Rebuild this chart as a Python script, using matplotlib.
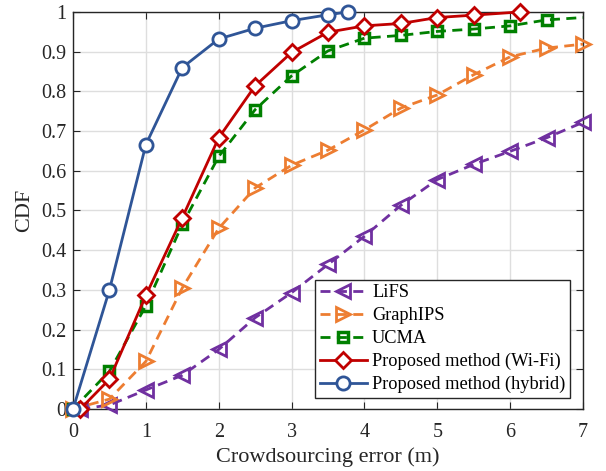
import matplotlib
matplotlib.use('Agg')
import matplotlib.pyplot as plt

plt.rcParams['font.family'] = ['Liberation Serif', 'DejaVu Serif']

# LiFS
x_lifs = [0.1, 0.5, 1, 1.5, 2, 2.5, 3, 3.5, 4, 4.5, 5, 5.5, 6, 6.5, 7]
y_lifs = [0.0, 0.01, 0.048, 0.085, 0.15, 0.23, 0.293, 0.364, 0.435, 0.513, 0.578, 0.616, 0.649, 0.683, 0.722]

# GraphIPS
x_graph = [0, 0.5, 1, 1.5, 2, 2.5, 3, 3.5, 4, 4.5, 5, 5.5, 6, 6.5, 7]
y_graph = [0.0, 0.025, 0.12, 0.305, 0.455, 0.557, 0.614, 0.652, 0.703, 0.758, 0.791, 0.842, 0.887, 0.909, 0.919]

# UCMA (last point only carries the line to the border)
x_ucma = [0, 0.5, 1, 1.5, 2, 2.5, 3, 3.5, 4, 4.5, 5, 5.5, 6, 6.5, 7]
y_ucma = [0.0, 0.095, 0.26, 0.465, 0.636, 0.754, 0.839, 0.902, 0.934, 0.941, 0.951, 0.957, 0.965, 0.98, 0.986]

# Proposed method (Wi-Fi)
x_wifi = [0.1, 0.5, 1, 1.5, 2, 2.5, 3, 3.5, 4, 4.5, 5, 5.5, 6.13]
y_wifi = [0.0, 0.075, 0.286, 0.482, 0.683, 0.814, 0.898, 0.949, 0.965, 0.971, 0.986, 0.992, 1.0]

# Proposed method (hybrid)
x_hyb = [0, 0.5, 1, 1.5, 2, 2.5, 3, 3.5, 3.77]
y_hyb = [0.0, 0.30, 0.666, 0.86, 0.932, 0.959, 0.978, 0.993, 1.0]

fig = plt.figure(figsize=(6.06, 4.71), dpi=100)
ax = fig.add_axes([0.1205, 0.1316, 0.8415, 0.843])

lw = 2.0
ms = 9.5
mew = 2.0
dash = (0, (3.6, 2.3))

ax.plot(x_lifs, y_lifs, color='#7030A0', ls=dash, lw=lw, marker='<', ms=ms + 1,
        mew=mew, mfc='none', label='LiFS', clip_on=False, zorder=3)
ax.plot(x_graph, y_graph, color='#ED7D31', ls=dash, lw=lw, marker='>', ms=ms + 1,
        mew=mew, mfc='none', label='GraphIPS', clip_on=False, zorder=3)
ax.plot(x_ucma, y_ucma, color='#008000', ls=dash, lw=lw, marker='s', ms=ms - 2.5,
        mew=mew + 0.5, mfc='none', label='UCMA', clip_on=False, zorder=3,
        markevery=list(range(len(x_ucma) - 1)))
ax.plot(x_wifi, y_wifi, color='#C00000', ls='-', lw=lw, marker='D', ms=ms - 1.5,
        mew=mew, mfc='white', label='Proposed method (Wi-Fi)', clip_on=False, zorder=4)
ax.plot(x_hyb, y_hyb, color='#2F5597', ls='-', lw=lw, marker='o', ms=ms,
        mew=mew, mfc='white', label='Proposed method (hybrid)', clip_on=False, zorder=5)

ax.set_xlim(0, 7)
ax.set_ylim(0, 1)
ax.set_xticks(range(0, 8))
ax.set_xticklabels([str(i) for i in range(0, 8)])
yt = [i / 10 for i in range(11)]
ax.set_yticks(yt)
ax.set_yticklabels(['0'] + ['%.1f' % v for v in yt[1:-1]] + ['1'])
ax.tick_params(direction='in', top=True, right=True, labelsize=14.5, length=5,
               color='#262626', labelcolor='#262626')
ax.tick_params(axis='x', pad=10)
ax.tick_params(axis='y', pad=5)
ax.grid(True, color='#DEDEDE', lw=1)
ax.set_axisbelow(True)
for s in ax.spines.values():
    s.set_color('#262626')
    s.set_linewidth(1)

ax.set_xlabel('Crowdsourcing error (m)', fontsize=16, color='#262626', labelpad=4)
ax.set_ylabel('CDF', fontsize=16, color='#262626', labelpad=5)

leg = ax.legend(loc='lower right', bbox_to_anchor=(0.9745, 0.028), fontsize=13.2,
                frameon=True, fancybox=False, edgecolor='#262626', framealpha=1,
                handlelength=2.55, handletextpad=0.3, borderpad=0.25, labelspacing=0.32,
                borderaxespad=0)
leg.get_frame().set_linewidth(1)

fig.savefig('out.png', dpi=100)
